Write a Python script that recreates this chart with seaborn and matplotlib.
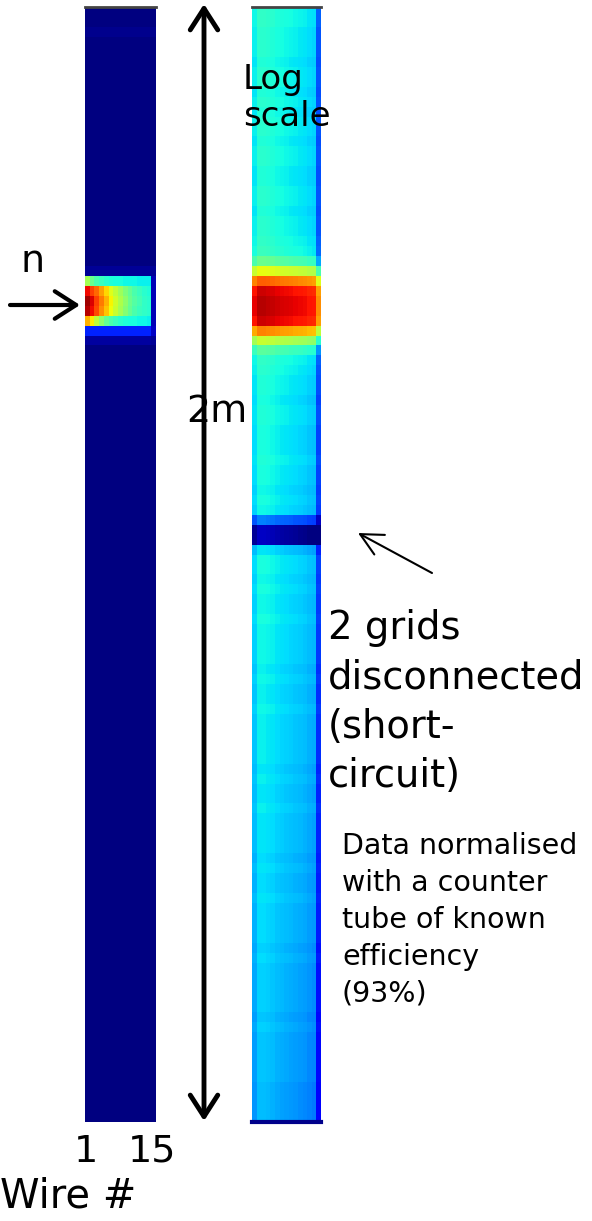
import numpy as np
import matplotlib
matplotlib.use("Agg")
import matplotlib.pyplot as plt
import seaborn as sns

sns.set_style("white")
plt.rcParams['font.family'] = ['DejaVu Sans']
plt.rcParams['text.color'] = 'black'

# ---------------- data (jet-normalised intensity, 0..1) ----------------
n_rows = 112          # positions along the 2 m tube (top -> bottom)
wires = list(range(1, 16))

# left strip: beam spot rows (row index -> 15 wire values); all other rows ~0
left_spot_rows = [26, 27, 28, 29, 30, 31, 32, 33]
left_spot_vals = [
    [0.02] * 14 + [0.02],
    [0.55, 0.48, 0.44, 0.42, 0.40, 0.39, 0.38, 0.38, 0.37, 0.37, 0.37, 0.36, 0.36, 0.36, 0.05],
    [0.90, 0.84, 0.80, 0.74, 0.68, 0.62, 0.58, 0.54, 0.50, 0.47, 0.44, 0.42, 0.40, 0.39, 0.05],
    [0.97, 0.92, 0.84, 0.78, 0.72, 0.65, 0.60, 0.56, 0.52, 0.48, 0.45, 0.43, 0.41, 0.40, 0.05],
    [0.95, 0.90, 0.83, 0.76, 0.70, 0.64, 0.59, 0.55, 0.51, 0.47, 0.44, 0.42, 0.41, 0.40, 0.05],
    [0.72, 0.66, 0.58, 0.52, 0.47, 0.44, 0.42, 0.40, 0.39, 0.38, 0.38, 0.37, 0.37, 0.36, 0.05],
    [0.16] * 14 + [0.06],
    [0.03] * 14 + [0.02],
]
left_top_row = 2
left_top_val = 0.015

# right strip (log scale): profile along the tube + per-wire offset
right_profile = [
    0.38, 0.38, 0.37, 0.37, 0.37, 0.36, 0.37, 0.37, 0.36, 0.37,
    0.36, 0.37, 0.37, 0.36, 0.37, 0.37, 0.36, 0.36, 0.37, 0.37,
    0.36, 0.37, 0.37, 0.38, 0.39,
    0.45, 0.60, 0.78, 0.90, 0.92, 0.92, 0.90, 0.74, 0.56, 0.43,
    0.38, 0.37, 0.36, 0.36, 0.35, 0.36, 0.36, 0.35, 0.35, 0.35,
    0.36, 0.35, 0.35, 0.34, 0.35, 0.34,
    0.22, 0.03, 0.03, 0.32,
    0.35, 0.35, 0.34, 0.35, 0.34, 0.34, 0.35, 0.34, 0.34, 0.34,
    0.34, 0.33, 0.34, 0.33, 0.33, 0.34, 0.33, 0.33, 0.33, 0.33,
    0.33, 0.32, 0.33, 0.32, 0.32, 0.33, 0.32, 0.32, 0.32, 0.32,
    0.31, 0.32, 0.31, 0.31, 0.32, 0.31, 0.31, 0.31, 0.31, 0.30,
    0.31, 0.30, 0.30, 0.30, 0.30, 0.30, 0.29, 0.30, 0.29, 0.29,
    0.29, 0.29, 0.29, 0.28, 0.28, 0.28, 0.28,
]
right_wire_offset = [-0.01, 0.03, 0.03, 0.025, 0.02, 0.01, 0.005, 0.0,
                     -0.005, -0.01, -0.015, -0.02, -0.03, -0.035, -0.16]

# ---------------- build tables ----------------
left = np.zeros((n_rows, len(wires)))
left[left_top_row, :] = left_top_val
for r, vals in zip(left_spot_rows, left_spot_vals):
    left[r, :] = vals
right = np.clip(np.add.outer(np.array(right_profile), np.array(right_wire_offset)), 0, 1)

# ---------------- figure ----------------
W, H = 592, 1221
fig = plt.figure(figsize=(W / 100, H / 100), dpi=100)

def px_axes(x0, y0, x1, y1):
    return fig.add_axes([x0 / W, 1 - y1 / H, (x1 - x0) / W, (y1 - y0) / H])

axL = px_axes(85, 7, 156, 1122)
axR = px_axes(252, 7, 321, 1122)
for ax, data in ((axL, left), (axR, right)):
    sns.heatmap(data, ax=ax, cmap="jet", vmin=0, vmax=1, cbar=False,
                xticklabels=False, yticklabels=False)
    ax.set_xlabel("")
    ax.set_ylabel("")
    for s in ax.spines.values():
        s.set_visible(False)
    ax.spines['top'].set_visible(True)
    ax.spines['top'].set_color('#444444')
    ax.spines['top'].set_linewidth(2)
axR.spines['bottom'].set_visible(True)
axR.spines['bottom'].set_color('#00008b')
axR.spines['bottom'].set_linewidth(3)

# overlay for annotations in pixel coordinates
ov = fig.add_axes([0, 0, 1, 1], facecolor='none')
ov.set_xlim(0, W)
ov.set_ylim(H, 0)
ov.axis('off')

def fs(px):
    return px * 0.72

# long double arrow (2 m)
ov.annotate("", xy=(204, 4), xytext=(204, 1121),
            arrowprops=dict(arrowstyle="<->,head_length=0.7,head_width=0.45",
                            lw=3.5, color="black", mutation_scale=22,
                            shrinkA=0, shrinkB=0))
ov.text(217, 412, "2m", fontsize=fs(38), ha="center", va="center", color="black")

# neutron beam arrow
ov.annotate("", xy=(80, 305), xytext=(10, 305),
            arrowprops=dict(arrowstyle="->,head_length=0.7,head_width=0.45",
                            lw=3, color="black", mutation_scale=22,
                            shrinkA=0, shrinkB=0))
ov.text(33, 262, "n", fontsize=fs(38), ha="center", va="center", color="black")

ov.text(243, 98, "Log\nscale", fontsize=fs(34), ha="left", va="center",
        linespacing=1.15, color="black")

# disconnected grids arrow
ov.annotate("", xy=(358, 533), xytext=(432, 573),
            arrowprops=dict(arrowstyle="->,head_length=0.8,head_width=0.4",
                            lw=1.5, color="black", mutation_scale=20,
                            shrinkA=0, shrinkB=0))
ov.text(328, 702, "2 grids\ndisconnected\n(short-\ncircuit)", fontsize=fs(38.5),
        ha="left", va="center", linespacing=1.37, color="black")

ov.text(342, 920, "Data normalised\nwith a counter\ntube of known\nefficiency\n(93%)",
        fontsize=fs(28.5), ha="left", va="center", linespacing=1.4, color="black")

ov.text(86, 1152, str(wires[0]), fontsize=fs(38), ha="center", va="center", color="black")
ov.text(152, 1152, str(wires[-1]), fontsize=fs(38), ha="center", va="center", color="black")
ov.text(68, 1196, "Wire #", fontsize=fs(40), ha="center", va="center", color="black")

fig.savefig("out.png", dpi=100)
